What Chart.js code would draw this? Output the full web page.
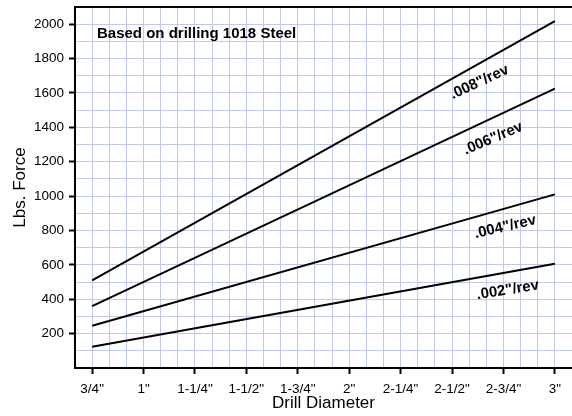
<!DOCTYPE html>
<html>
<head>
<meta charset="utf-8">
<script src="https://cdn.jsdelivr.net/npm/chart.js@4"></script>
<style>
  html, body { margin: 0; padding: 0; background: #fff; }
  #wrap { width: 572px; height: 416px; }
</style>
</head>
<body>
<div id="wrap"><canvas id="forceChart"></canvas></div>
<script>
// drill diameters in inches, quarter-inch tick labels
const diameters = [0.75, 3];
const tickLabels = ['3/4"', '1"', '1-1/4"', '1-1/2"', '1-3/4"', '2"', '2-1/4"', '2-1/2"', '2-3/4"', '3"'];

// thrust force (lbs) at 3/4" and 3" for each feed rate
const feedLabels = ['.008"/rev', '.006"/rev', '.004"/rev', '.002"/rev'];
const force008 = [510, 2018];
const force006 = [360, 1625];
const force004 = [246, 1010];
const force002 = [124, 606];

const FONT = "Helvetica, Arial, 'Liberation Sans', sans-serif";

// x runs in twelfths of an inch so the grid falls on whole numbers
const toTwelfths = d => Math.round(d * 12);
const pts = ys => diameters.map((d, i) => ({ x: toTwelfths(d), y: ys[i] }));

// where each feed label sits (x in twelfths, y in lbs) and its tilt
const labelSpots = [
  { x: 31.6, y: 1662, angle: -25 },
  { x: 32.4, y: 1335, angle: -23 },
  { x: 33.1, y: 820, angle: -13 },
  { x: 33.25, y: 453, angle: -9 }
];

const chartDecor = {
  id: 'chartDecor',
  afterDraw(chart) {
    const { ctx, chartArea: a, scales } = chart;
    ctx.save();
    // top frame line
    ctx.strokeStyle = '#000';
    ctx.lineWidth = 2;
    ctx.beginPath();
    ctx.moveTo(a.left, a.top);
    ctx.lineTo(a.right, a.top);
    ctx.stroke();

    ctx.fillStyle = '#000';
    ctx.font = 'bold 15px ' + FONT;
    ctx.textAlign = 'left';
    ctx.textBaseline = 'alphabetic';
    ctx.fillText('Based on drilling 1018 Steel', a.left + 22, a.top + 31);

    ctx.font = 'bold 15px ' + FONT;
    ctx.textAlign = 'center';
    ctx.textBaseline = 'middle';
    labelSpots.forEach((s, i) => {
      const px = scales.x.getPixelForValue(s.x);
      const py = scales.y.getPixelForValue(s.y);
      ctx.save();
      ctx.translate(px, py);
      ctx.rotate(s.angle * Math.PI / 180);
      ctx.fillText(feedLabels[i], 0, 0);
      ctx.restore();
    });
    ctx.restore();
  }
};

const lineStyle = { borderColor: '#000', borderWidth: 2, pointRadius: 0, tension: 0, fill: false };

const isXLabel = v => v >= 9 && v <= 36 && (v - 9) % 3 === 0;
const isYLabel = v => v > 0 && v < 2100 && v % 200 === 0;

new Chart(document.getElementById('forceChart'), {
  type: 'line',
  data: {
    datasets: [
      { label: feedLabels[0], data: pts(force008), ...lineStyle },
      { label: feedLabels[1], data: pts(force006), ...lineStyle },
      { label: feedLabels[2], data: pts(force004), ...lineStyle },
      { label: feedLabels[3], data: pts(force002), ...lineStyle }
    ]
  },
  options: {
    responsive: true,
    maintainAspectRatio: false,
    animation: false,
    layout: { padding: { top: 7, right: 0, left: 0, bottom: 0 } },
    plugins: { legend: { display: false }, tooltip: { enabled: false } },
    scales: {
      x: {
        type: 'linear',
        min: 8,
        max: 37,
        afterFit: s => { s.height = 48; s.paddingLeft = 0; s.paddingRight = 0; },
        border: { color: '#000', width: 2 },
        grid: {
          color: '#bfcae6',
          lineWidth: 1,
          tickLength: 6,
          tickWidth: 2,
          tickColor: c => isXLabel(c.tick.value) ? '#000' : 'rgba(0,0,0,0)'
        },
        ticks: {
          stepSize: 1,
          autoSkip: false,
          maxRotation: 0,
          padding: 7,
          color: '#000',
          font: { family: FONT, size: 13.5 },
          callback: v => isXLabel(v) ? tickLabels[(v - 9) / 3] : ''
        },
        title: {
          display: true,
          text: 'Drill Diameter',
          color: '#000',
          font: { family: FONT, size: 17 },
          padding: { top: 0, bottom: 2 }
        }
      },
      y: {
        min: 0,
        max: 2100,
        afterFit: s => { s.width = 75; s.paddingTop = 0; s.paddingBottom = 0; },
        border: { color: '#000', width: 2 },
        grid: {
          color: '#bfcae6',
          lineWidth: 1,
          tickLength: 6,
          tickWidth: 2,
          tickColor: c => isYLabel(c.tick.value) ? '#000' : 'rgba(0,0,0,0)'
        },
        ticks: {
          stepSize: 100,
          autoSkip: false,
          padding: 5,
          color: '#000',
          font: { family: FONT, size: 13.5 },
          callback: v => isYLabel(v) ? v : ''
        },
        title: {
          display: true,
          text: 'Lbs. Force',
          color: '#000',
          font: { family: FONT, size: 17 },
          padding: { top: 10, bottom: 0 }
        }
      }
    }
  },
  plugins: [chartDecor]
});
</script>
</body>
</html>
